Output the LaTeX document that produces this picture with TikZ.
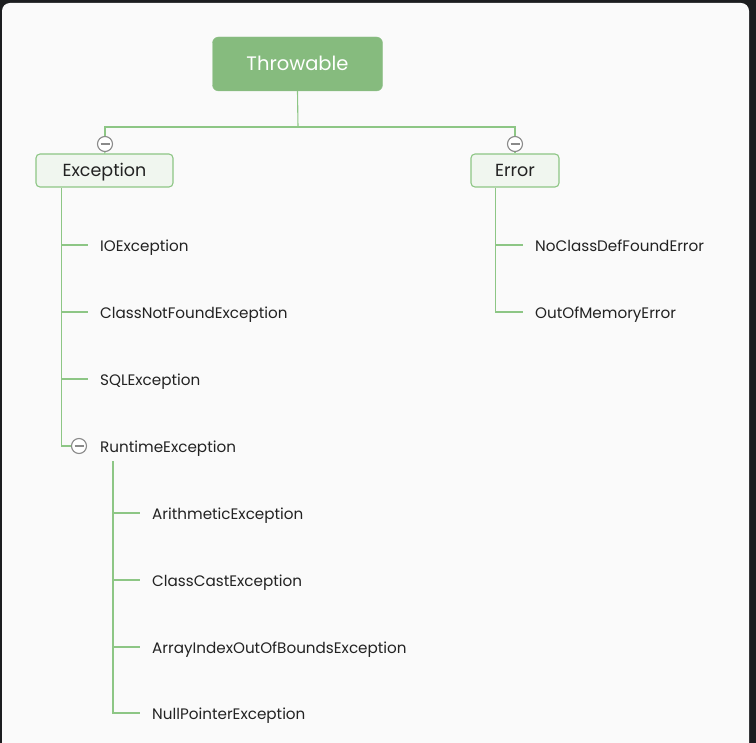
\documentclass[tikz,border=0pt]{standalone}
\usepackage{fontspec}
\setmainfont{Poppins}
\usetikzlibrary{calc}
\definecolor{darkbg}{HTML}{1C1D1F}
\definecolor{paper}{HTML}{FAFAFA}
\definecolor{gfill}{HTML}{86BB7E}
\definecolor{gline}{HTML}{8DC685}
\definecolor{lfill}{HTML}{F0F6EF}
\definecolor{cgray}{HTML}{8A8A8A}
\definecolor{txt}{HTML}{222222}
\tikzset{
  conn/.style={draw=gline, line width=1.1pt},
  rootbox/.style={draw=gfill!90!white, fill=gfill, rounded corners=6pt, minimum width=170pt, minimum height=54pt, text height=15pt, text depth=1.3pt, text=white, font=\fontsize{19.5}{22}\selectfont},
  mainbox/.style={draw=gline, line width=1.1pt, fill=lfill, rounded corners=4pt, minimum height=33pt, inner ysep=0pt, text height=14pt, text depth=1.4pt, text=txt, font=\fontsize{17.5}{20}\selectfont},
  leaf/.style={anchor=west, inner xsep=12pt, inner ysep=0pt, text height=14.5pt, text depth=1.5pt, text=txt, font=\fontsize{15.2}{18}\selectfont},
  fold/.style={circle, draw=cgray, line width=1.1pt, fill=white, minimum size=15pt, inner sep=0pt,
    path picture={\draw[cgray, line width=1.4pt] ($(path picture bounding box.center)+(-4.5pt,0)$) -- ($(path picture bounding box.center)+(4.5pt,0)$);}},
}
\begin{document}
\begin{tikzpicture}[x=1pt,y=-1pt]
\useasboundingbox (0,0) rectangle (756,743);
\fill[darkbg] (0,0) rectangle (756,743);
\fill[paper, rounded corners=8pt] (2,3) rectangle (749,760);

\node[rootbox] (th) at (297.5,64) {Throwable};
\node[fold] (c1) at (105,144) {};
\node[fold] (c2) at (515,144) {};
\node[mainbox, minimum width=137pt] (ex) at (104.5,170.5) {Exception};
\node[mainbox, minimum width=88pt] (er) at (515,170.5) {Error};

\coordinate (bus) at (298,127);
\draw[conn] (th.south) -- (bus);
\draw[conn] (bus) -| (c1.north);
\draw[conn] (bus) -| (c2.north);
\draw[conn] (c1.south) -- (ex.north);
\draw[conn] (c2.south) -- (er.north);

% Exception children
\node[leaf] (io) at (88,245) {IOException};
\node[leaf] (cnf) at (88,312) {ClassNotFoundException};
\node[leaf] (sql) at (88,379) {SQLException};
\node[fold] (c3) at (79,446) {};
\node[leaf, inner xsep=0pt] (rt) at (100,446) {RuntimeException};

\coordinate (et) at ($(ex.south west)+(26,0)$);
\draw[conn] (et) |- (c3.west);
\draw[conn] (et |- io.west) -- (io.west);
\draw[conn] (et |- cnf.west) -- (cnf.west);
\draw[conn] (et |- sql.west) -- (sql.west);

% Runtime children
\node[leaf] (ar) at (140,513) {ArithmeticException};
\node[leaf] (cc) at (140,580) {ClassCastException};
\node[leaf] (ai) at (140,647) {ArrayIndexOutOfBoundsException};
\node[leaf] (np) at (140,713) {NullPointerException};

\coordinate (rtt) at ($(rt.south west)+(13,7)$);
\draw[conn] (rtt) |- (np.west);
\draw[conn] (rtt |- ar.west) -- (ar.west);
\draw[conn] (rtt |- cc.west) -- (cc.west);
\draw[conn] (rtt |- ai.west) -- (ai.west);

% Error children
\node[leaf] (nc) at (523,245) {NoClassDefFoundError};
\node[leaf] (om) at (523,312) {OutOfMemoryError};
\coordinate (ert) at ($(er.south west)+(25,0)$);
\draw[conn] (ert) |- (om.west);
\draw[conn] (ert |- nc.west) -- (nc.west);
\end{tikzpicture}
\end{document}
